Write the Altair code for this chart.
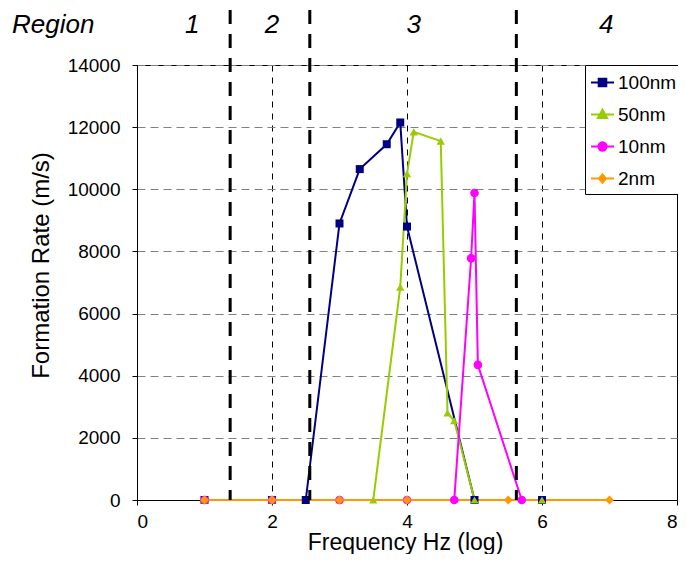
import altair as alt
import pandas as pd

# ---------------- data ----------------
series_names = ["100nm", "50nm", "10nm", "2nm"]
series_colors = ["#000080", "#99CC00", "#FF00FF", "#FF9900"]
series_shapes = ["square", "triangle-up", "circle", "diamond"]
series_sizes = [64, 80, 64, 55]

x_100 = [1, 2, 2.5, 3, 3.3, 3.7, 3.9, 4.0, 5, 6]
y_100 = [0, 0, 0, 8900, 10650, 11450, 12150, 8800, 0, 0]

x_50 = [1, 2, 3, 3.5, 3.9, 4.0, 4.1, 4.5, 4.6, 4.7, 5, 6]
y_50 = [0, 0, 0, 0, 6850, 10500, 11850, 11550, 2800, 2550, 0, 0]

x_10 = [1, 2, 3, 4, 4.7, 4.95, 5.0, 5.05, 5.7]
y_10 = [0, 0, 0, 0, 0, 7780, 9880, 4350, 0]

x_2 = [1, 2, 3, 4, 5.5, 7]
y_2 = [0, 0, 0, 0, 0, 0]

region_bounds = [1.38, 2.56, 5.62]
region_labels = ["1", "2", "3", "4"]
region_label_x = [0.82, 2.0, 4.1, 6.95]

x_ticks = [0, 2, 4, 6, 8]
y_ticks = [0, 2000, 4000, 6000, 8000, 10000, 12000, 14000]

# legend symbols: a short line with the marker on it (custom SVG paths)
legend_paths = [
    "M-1,0H1M-0.33,-0.33H0.33V0.33H-0.33Z",
    "M-1,0H1M0,-0.42L0.4,0.3H-0.4Z",
    "M-1,0H1M-0.36,0A0.36,0.36 0 1,0 0.36,0A0.36,0.36 0 1,0 -0.36,0Z",
    "M-1,0H1M0,-0.36L0.3,0L0,0.36L-0.3,0Z",
]

FONT = "Liberation Sans"

rows = []
idx = 0
for name, xs, ys in [("100nm", x_100, y_100), ("50nm", x_50, y_50),
                     ("10nm", x_10, y_10), ("2nm", x_2, y_2)]:
    for xv, yv in zip(xs, ys):
        rows.append({"series": name, "x": xv, "y": yv, "idx": idx})
        idx += 1
df = pd.DataFrame(rows)

bounds_df = pd.DataFrame({"bx": region_bounds})
labels_df = pd.DataFrame({"rx": region_label_x, "label": region_labels})
region_word_df = pd.DataFrame({"t": ["Region"]})

x_scale = alt.Scale(domain=[0, 8], nice=False, zero=False)
y_scale = alt.Scale(domain=[0, 14000], nice=False)

x_enc = alt.X(
    "x:Q", scale=x_scale,
    axis=alt.Axis(
        values=x_ticks, format="d", title="Frequency Hz (log)", grid=True,
        gridColor="black", gridDash=[6, 6], gridWidth=1,
        labelFontSize=19, labelFont=FONT, labelColor="black",
        labelBaseline="middle", labelPadding=16,
        tickSize=5, tickColor="black", domainColor="black",
        titleFont=FONT, titleFontSize=23, titleFontWeight="normal",
        titleColor="black", titleX=268, titleY=42,
        titleBaseline="middle", titleAlign="center",
    ),
)
y_enc = alt.Y(
    "y:Q", scale=y_scale,
    axis=alt.Axis(
        values=y_ticks, format="d", title="Formation Rate (m/s)", grid=True,
        gridColor="#808080", gridDash=[8, 5], gridWidth=1,
        labelFontSize=19, labelFont=FONT, labelColor="black",
        labelPadding=12, tickSize=5, tickColor="black",
        domainColor="black",
        titleFont=FONT, titleFontSize=24, titleFontWeight="normal",
        titleColor="black", titleX=-96, titleY=200,
        titleBaseline="middle", titleAlign="center",
    ),
)

color_scale = alt.Scale(domain=series_names, range=series_colors)

line_layers = []
point_layers = []
for name in series_names:
    sub = alt.Chart(df).transform_filter(alt.datum.series == name)
    line_layers.append(
        sub.mark_line(strokeWidth=2).encode(
            x=x_enc, y=y_enc,
            color=alt.Color("series:N", scale=color_scale, legend=None),
            order=alt.Order("idx:Q"),
        )
    )
    point_layers.append(
        sub.mark_point(filled=True, opacity=1).encode(
            x=alt.X("x:Q", scale=x_scale),
            y=alt.Y("y:Q", scale=y_scale),
            color=alt.Color("series:N", scale=color_scale, legend=None),
            shape=alt.Shape("series:N", scale=alt.Scale(domain=series_names, range=series_shapes), legend=None),
            size=alt.Size("series:N", scale=alt.Scale(domain=series_names, range=series_sizes), legend=None),
        )
    )

leg_props = dict(
    orient="none", legendX=448, legendY=0, title=None,
    symbolSize=529, symbolStrokeWidth=2,
    labelFont=FONT, labelFontSize=19, labelColor="black", labelOffset=3,
    padding=5, rowPadding=9, strokeColor="black", fillColor="white",
)

legend_layer = alt.Chart(df).transform_filter("false").mark_point(
    filled=True, opacity=1
).encode(
    x=alt.X("x:Q", scale=x_scale),
    y=alt.Y("y:Q", scale=y_scale),
    fill=alt.Fill("series:N", scale=alt.Scale(domain=series_names, range=series_colors),
                  legend=alt.Legend(**leg_props)),
    stroke=alt.Stroke("series:N", scale=alt.Scale(domain=series_names, range=series_colors),
                      legend=alt.Legend(**leg_props)),
    shape=alt.Shape("series:N", scale=alt.Scale(domain=series_names, range=legend_paths),
                    legend=alt.Legend(**leg_props)),
)

region_rules = alt.Chart(bounds_df).mark_rule(
    color="black", strokeWidth=3, strokeDash=[14, 10]
).encode(
    x=alt.X("bx:Q", scale=x_scale),
    y=alt.value(-55), y2=alt.value(435),
)

region_text = alt.Chart(labels_df).mark_text(
    font=FONT, fontSize=26, fontStyle="italic", color="black", baseline="middle"
).encode(
    x=alt.X("rx:Q", scale=x_scale),
    y=alt.value(-40),
    text="label:N",
)

region_word = alt.Chart(region_word_df).mark_text(
    font=FONT, fontSize=26, fontStyle="italic", color="black",
    baseline="middle", align="left"
).encode(
    x=alt.value(-125), y=alt.value(-40), text="t:N",
)

chart = alt.layer(
    *line_layers, *point_layers, region_rules, region_text, region_word, legend_layer
).resolve_scale(
    shape="independent", fill="independent", stroke="independent"
).properties(
    width=540, height=435,
    autosize=alt.AutoSizeParams(type="none"),
    padding={"left": 129, "top": 57, "right": 1, "bottom": 54},
    background="white",
).configure_view(
    stroke="black", strokeWidth=1
)

chart.save("out.html", embed_options={"renderer": "svg", "actions": False})
